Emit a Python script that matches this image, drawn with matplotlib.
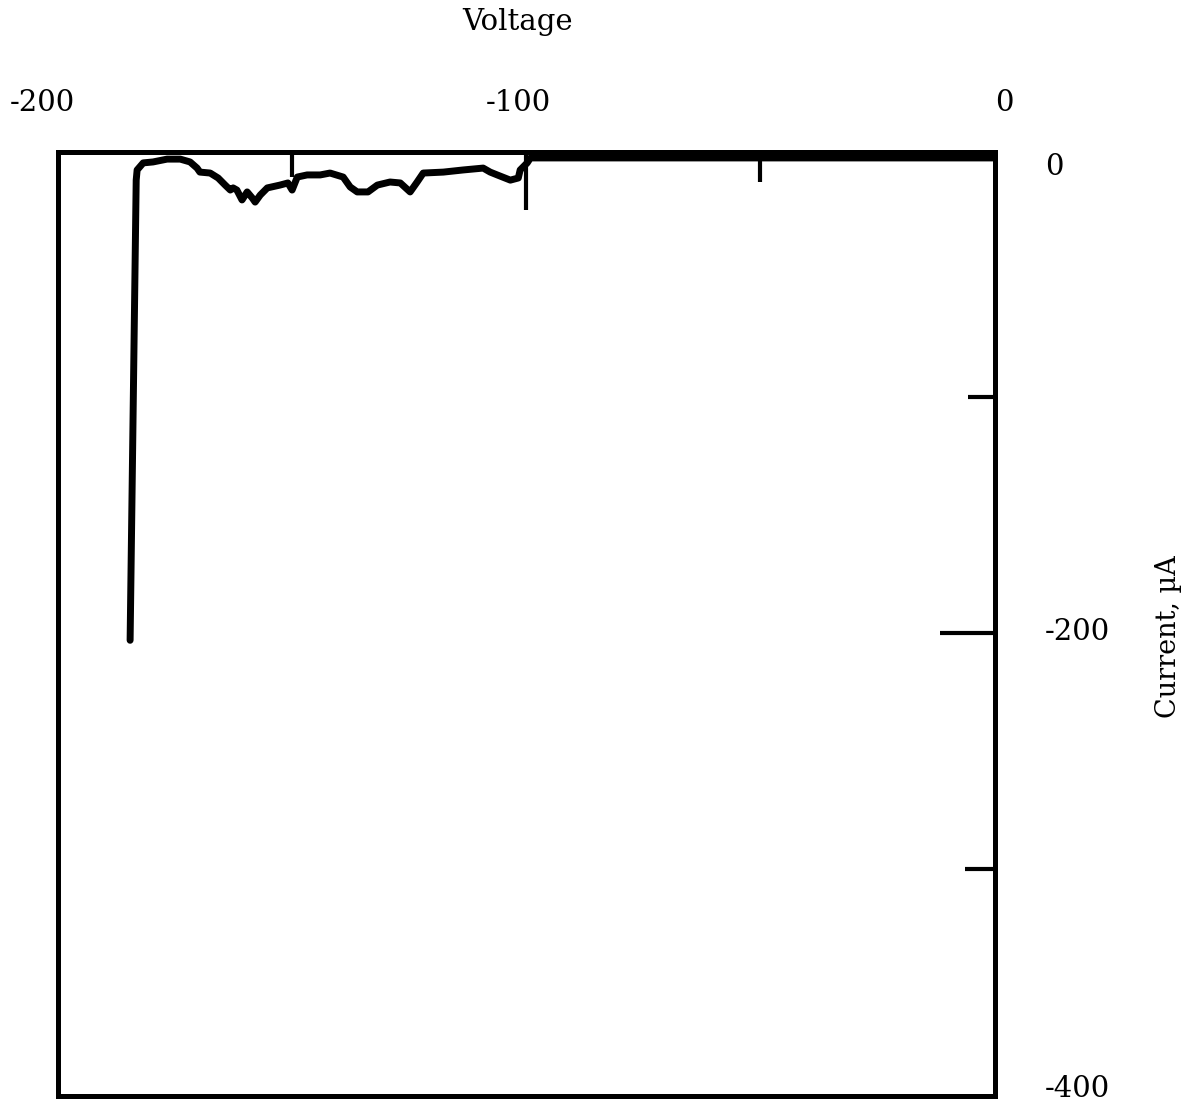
import matplotlib
matplotlib.use("Agg")
import matplotlib.pyplot as plt
from matplotlib.transforms import blended_transform_factory

# Data (Voltage, Current in uA)
voltage = [-184.6, -183.3, -183.1, -181.8, -179.7, -176.7, -173.9, -171.8, -170.3, -169.7,
           -167.5, -165.8, -164.3, -163.2, -162.6, -161.8, -160.7, -159.6, -158.5, -157.9,
           -156.8, -155.3, -152.6, -150.9, -150.0, -148.9, -146.8, -144.0, -141.9, -139.1,
           -137.6, -136.1, -133.8, -131.8, -129.1, -126.9, -124.8, -123.3, -122.0, -117.7,
           -113.5, -109.2, -107.7, -106.2, -103.4, -101.7, -101.3, -99.8, -99.1, 0.0]
current = [-203.0, -8.1, -3.8, -0.8, -0.4, 0.8, 0.8, -0.4, -3.0, -4.7,
           -5.1, -7.2, -10.2, -12.3, -11.4, -12.3, -16.5, -13.1, -15.7, -17.4,
           -14.4, -11.4, -10.2, -9.3, -12.3, -6.8, -5.9, -5.9, -5.1, -6.8,
           -11.0, -13.1, -13.1, -10.2, -8.9, -9.3, -13.1, -8.9, -5.1, -4.7,
           -3.8, -3.0, -4.7, -5.9, -8.1, -7.2, -3.8, -0.8, 1.3, 1.3]

x_ticks = [-150, -100, -50]
x_tick_len = [18, 42, 21.6]
y_ticks = [-100, -200, -300]
y_tick_len = [19.4, 39.6, 21.6]
x_labels = ["-200", "-100", "0"]
x_label_pos = [-203.4, -101.7, 2.2]
y_labels = ["0", "-200", "-400"]
y_label_pos = [-2.5, -199.6, -393.0]

W, H = 1198, 1102
fig = plt.figure(figsize=(W / 100, H / 100), dpi=100)
ax = fig.add_axes([58 / W, 6 / H, 936.5 / W, 943.5 / H])
ax.set_xlim(-200, 0)
ax.set_ylim(-396, 3.6)

ax.plot(voltage, current, color="black", lw=5, solid_capstyle="round",
        solid_joinstyle="round", clip_on=False)

for s in ax.spines.values():
    s.set_linewidth(3.6)
    s.set_color("black")

ax.xaxis.tick_top()
ax.yaxis.tick_right()
ax.set_xticks(x_ticks)
ax.set_yticks(y_ticks)
ax.set_xticklabels([])
ax.set_yticklabels([])
ax.tick_params(axis="both", direction="in", width=3, color="black")
for t, L in zip(ax.xaxis.get_major_ticks(), x_tick_len):
    t.tick2line.set_markersize(L)
for t, L in zip(ax.yaxis.get_major_ticks(), y_tick_len):
    t.tick2line.set_markersize(L)

font = dict(family="DejaVu Serif", fontsize=21, color="black")

xt = blended_transform_factory(ax.transData, fig.transFigure)
for lab, xv in zip(x_labels, x_label_pos):
    ax.text(xv, 1 - 103 / H, lab, transform=xt, ha="center", va="center", **font)

yt = blended_transform_factory(fig.transFigure, ax.transData)
for lab, yv in zip(y_labels, y_label_pos):
    ax.text(1045 / W, yv, lab, transform=yt, ha="left", va="center", **font)

fig.text(518 / W, 1 - 22 / H, "Voltage", ha="center", va="center", **font)
fig.text(1168 / W, 1 - 637 / H, "Current, µA", ha="center", va="center",
         rotation=90, family="DejaVu Serif", fontsize=19.5, color="black")

fig.savefig("out.png", dpi=100, facecolor="white")
